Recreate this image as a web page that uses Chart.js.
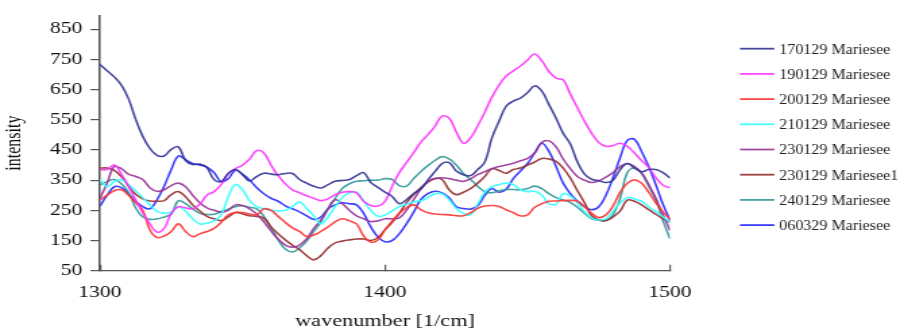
<!DOCTYPE html>
<html>
<head>
<meta charset="utf-8">
<script src="https://cdn.jsdelivr.net/npm/chart.js@4.4.0/dist/chart.umd.min.js"></script>
<style>
  html, body { margin: 0; padding: 0; background: #fff; overflow: hidden; }
  /* the figure is drawn narrow and widened, which gives the broad serif lettering */
  #wrap { width: 667px; height: 332px; transform: scaleX(1.3493); transform-origin: 0 0; }
</style>
</head>
<body>
<div id="wrap"><canvas id="c" width="667" height="332"></canvas></div>
<script>
// wavenumber grid [1/cm]
const wavenumbers = [
  1300, 1302.5, 1305, 1307.5, 1310, 1312.5, 1315, 1317.5, 1320, 1322.5,
  1325, 1327.5, 1330, 1332.5, 1335, 1337.5, 1340, 1342.5, 1345, 1347.5,
  1350, 1352.5, 1355, 1357.5, 1360, 1362.5, 1365, 1367.5, 1370, 1372.5,
  1375, 1377.5, 1380, 1382.5, 1385, 1387.5, 1390, 1392.5, 1395, 1397.5,
  1400, 1402.5, 1405, 1407.5, 1410, 1412.5, 1415, 1417.5, 1420, 1422.5,
  1425, 1427.5, 1430, 1432.5, 1435, 1437.5, 1440, 1442.5, 1445, 1447.5,
  1450, 1452.5, 1455, 1457.5, 1460, 1462.5, 1465, 1467.5, 1470, 1472.5,
  1475, 1477.5, 1480, 1482.5, 1485, 1487.5, 1490, 1492.5, 1495, 1497.5, 1500
];

const s170129 = [
  733, 712, 692, 665, 620, 552, 495, 455, 432, 430,
  452, 460, 415, 402, 403, 392, 352, 345, 372, 385,
  368, 347, 362, 373, 370, 368, 372, 372, 352, 340,
  330, 324, 335, 346, 349, 352, 365, 375, 342, 326,
  310, 296, 272, 285, 305, 320, 350, 378, 405, 408,
  380, 368, 365, 385, 410, 490, 545, 595, 612, 622,
  640, 662, 645, 600, 555, 505, 470, 410, 370, 353,
  348, 342, 350, 385, 405, 390, 378, 385, 385, 375, 357
];
const s190129 = [
  385, 385, 400, 370, 330, 285, 242, 205, 178, 190,
  240, 262, 258, 255, 270, 300, 312, 335, 372, 388,
  400, 420, 448, 440, 400, 365, 338, 318, 308, 298,
  290, 282, 288, 302, 310, 312, 308, 280, 266, 264,
  280, 330, 375, 408, 440, 475, 500, 528, 562, 555,
  510, 472, 490, 530, 575, 625, 665, 695, 712, 728,
  748, 768, 745, 710, 688, 682, 635, 590, 545, 505,
  475, 462, 465, 472, 462, 440, 415, 392, 358, 333, 325
];
const s200129 = [
  285, 300, 315, 318, 300, 275, 250, 185, 160, 165,
  180, 205, 180, 163, 172, 180, 190, 210, 235, 243,
  243, 238, 235, 255, 250, 230, 210, 192, 180, 163,
  168, 180, 195, 212, 222, 215, 205, 165, 145, 152,
  185, 215, 240, 258, 268, 252, 242, 238, 236, 235,
  232, 232, 242, 257, 264, 266, 263, 252, 242, 232,
  235, 260, 272, 280, 281, 282, 283, 280, 262, 240,
  226, 235, 265, 310, 340, 351, 340, 310, 275, 245, 221
];
const s210129 = [
  352, 328, 345, 352, 335, 315, 292, 268, 247, 240,
  245, 262, 248, 222, 205, 208, 215, 235, 295, 335,
  318, 282, 262, 255, 250, 248, 250, 262, 278, 256,
  232, 205, 228, 262, 292, 308, 310, 280, 250, 230,
  235, 248, 262, 270, 278, 282, 292, 305, 305, 285,
  256, 240, 235, 270, 310, 328, 335, 340, 335, 318,
  312, 313, 300, 272, 270, 305, 298, 275, 245, 224,
  218, 222, 248, 275, 292, 288, 280, 262, 245, 228, 210
];
const s230129 = [
  290, 340, 395, 388, 370, 362, 352, 325, 313, 318,
  332, 340, 328, 300, 275, 258, 250, 244, 250, 268,
  266, 255, 238, 212, 182, 155, 135, 128, 135, 156,
  190, 218, 255, 285, 272, 250, 232, 222, 213, 215,
  222, 222, 225, 250, 285, 320, 345, 355, 358, 355,
  350, 346, 355, 368, 378, 388, 395, 400, 406, 414,
  422, 440, 475, 480, 460, 420, 388, 362, 350, 342,
  348, 360, 375, 395, 405, 395, 375, 335, 290, 235, 183
];
const s230129b = [
  390, 390, 382, 362, 330, 303, 288, 281, 280, 282,
  302, 312, 295, 268, 248, 230, 222, 216, 228, 243,
  238, 232, 230, 224, 195, 172, 152, 135, 120, 100,
  86, 100, 125, 142, 148, 152, 155, 155, 150, 160,
  186, 210, 240, 275, 302, 325, 343, 355, 352, 318,
  302, 310, 322, 340, 362, 388, 382, 373, 385, 390,
  400, 410, 422, 420, 412, 390, 357, 315, 275, 232,
  218, 216, 228, 248, 284, 280, 268, 252, 237, 222, 210
];
const s240129 = [
  335, 345, 352, 338, 310, 258, 228, 220, 221, 228,
  238, 282, 272, 255, 240, 236, 237, 246, 254, 262,
  265, 260, 255, 230, 192, 152, 122, 112, 125, 148,
  180, 212, 255, 290, 322, 338, 346, 348, 350, 350,
  355, 352, 332, 330, 355, 378, 398, 415, 428, 420,
  400, 372, 352, 330, 312, 308, 315, 319, 319, 318,
  322, 330, 322, 305, 292, 284, 276, 260, 240, 222,
  218, 216, 235, 290, 375, 390, 372, 330, 285, 215, 156
];
const s060329 = [
  264, 300, 328, 325, 305, 280, 262, 255, 285, 330,
  385, 430, 418, 405, 400, 393, 375, 345, 355, 383,
  370, 350, 325, 305, 290, 280, 265, 255, 245, 232,
  220, 228, 255, 268, 275, 272, 268, 240, 195, 162,
  146, 150, 172, 205, 243, 285, 305, 313, 308, 292,
  262, 256, 254, 265, 300, 322, 310, 320, 355, 380,
  405, 440, 472, 445, 395, 340, 305, 280, 262, 252,
  262, 300, 358, 425, 482, 485, 445, 395, 335, 270, 216
];

const seriesNames = [
  '170129 Mariesee', '190129 Mariesee', '200129 Mariesee', '210129 Mariesee',
  '230129 Mariesee', '230129 Mariesee1', '240129 Mariesee', '060329 Mariesee'
];
const seriesValues = [s170129, s190129, s200129, s210129, s230129, s230129b, s240129, s060329];
const seriesColors = [
  'rgba(51,51,150,0.9)', 'rgba(255,51,255,0.9)', 'rgba(255,51,51,0.9)', 'rgba(51,255,255,0.9)',
  'rgba(153,51,153,0.9)', 'rgba(150,45,45,0.9)', 'rgba(51,153,153,0.9)', 'rgba(40,40,255,0.9)'
];

const xTicks = [1300, 1400, 1500];
const yTicks = [50, 150, 250, 350, 450, 550, 650, 750, 850];

const serif = '"Liberation Serif", "Times New Roman", serif';

// series list drawn at the right-hand side of the plot
const sideLegend = {
  id: 'sideLegend',
  afterDraw(chart) {
    const ctx = chart.ctx;
    const rowTop = 48.7, rowGap = 25.2;
    const lineX0 = 548.4, lineX1 = 573.9, textX = 577.5;
    const squeeze = 0.793;
    ctx.save();
    chart.data.datasets.forEach((ds, i) => {
      const y = rowTop + rowGap * i;
      ctx.strokeStyle = ds.borderColor;
      ctx.lineWidth = 1.8;
      ctx.beginPath();
      ctx.moveTo(lineX0, y);
      ctx.lineTo(lineX1, y);
      ctx.stroke();
      ctx.save();
      ctx.translate(textX, y);
      ctx.scale(squeeze, 1);
      ctx.font = '15px ' + serif;
      ctx.fillStyle = '#222';
      ctx.textBaseline = 'middle';
      ctx.textAlign = 'left';
      ctx.fillText(ds.label, 0, 1);
      ctx.restore();
    });
    ctx.restore();
  }
};

new Chart(document.getElementById('c'), {
  type: 'line',
  data: {
    datasets: seriesNames.map((name, k) => ({
      label: name,
      data: wavenumbers.map((w, i) => ({ x: w, y: seriesValues[k][i] })),
      borderColor: seriesColors[k],
      borderWidth: 1.6,
      pointRadius: 0,
      tension: 0.4,
      fill: false
    }))
  },
  options: {
    responsive: false,
    animation: false,
    devicePixelRatio: 1,
    layout: { padding: { top: 12, right: 170.4, left: 0, bottom: 0 } },
    plugins: { legend: { display: false }, tooltip: { enabled: false } },
    scales: {
      x: {
        type: 'linear', min: 1300, max: 1500,
        afterBuildTicks: s => { s.ticks = xTicks.map(v => ({ value: v })); },
        afterFit: s => { s.height = 61.3; },
        grid: { drawOnChartArea: false, drawTicks: true, tickLength: -6, color: '#555', lineWidth: 1.2 },
        border: { display: true, color: '#555', width: 1.3 },
        ticks: {
          padding: 18, maxRotation: 0, autoSkip: false, color: '#111',
          font: { family: serif, size: 16 },
          callback: v => String(v)
        },
        title: { display: true, text: 'wavenumber [1/cm]', color: '#111', font: { family: serif, size: 16.5 }, padding: { top: 0, bottom: 0 } }
      },
      y: {
        type: 'linear', min: 50, max: 895,
        afterBuildTicks: s => { s.ticks = yTicks.map(v => ({ value: v })); },
        afterFit: s => { s.width = 74.1; },
        grid: { drawOnChartArea: false, drawTicks: true, tickLength: 7, color: '#555', lineWidth: 1.2 },
        border: { display: true, color: '#555', width: 1.5 },
        ticks: { padding: 6, color: '#111', font: { family: serif, size: 16 }, callback: v => String(v) },
        title: { display: true, text: 'intensity', color: '#111', font: { family: serif, size: 16 }, padding: { top: 1, bottom: 0 } }
      }
    }
  },
  plugins: [sideLegend]
});
</script>
</body>
</html>
